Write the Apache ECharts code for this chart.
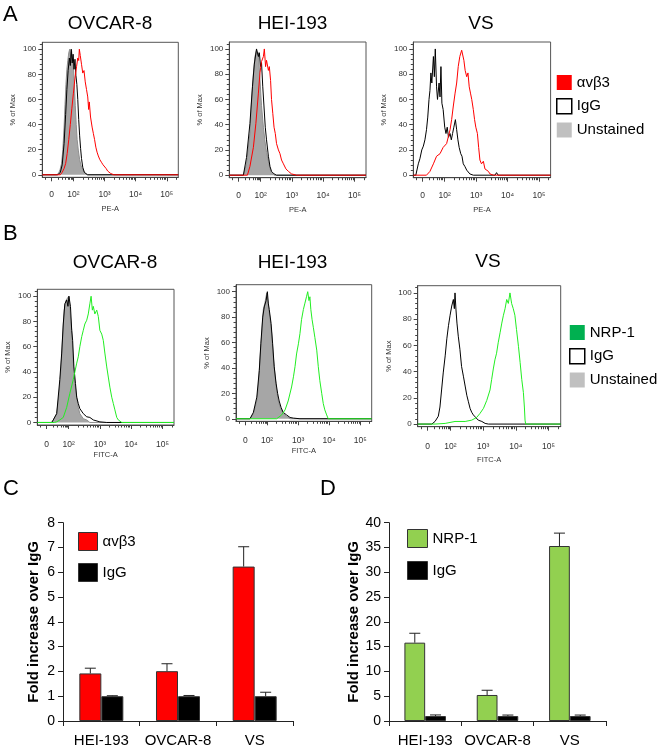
<!DOCTYPE html>
<html><head><meta charset="utf-8">
<script src="https://cdn.jsdelivr.net/npm/echarts@6/dist/echarts.min.js"></script>
<style>html,body{margin:0;padding:0;background:#fff}#c{width:660px;height:748px}</style>
</head><body><div id="c"></div>
<script>
// ---------------- DATA ----------------
// Flow histogram x axis: display position (decade units), tick labels
const flowXTickValues = [1.3, 2, 3, 4, 5];
const flowXTickLabels = ['0', '10²', '10³', '10⁴', '10⁵'];
const flowYTickValues = [0, 20, 40, 60, 80, 100];
const flowXMinorTicks = [1.1, 1.5, 1.65, 1.75, 1.82, 1.88, 1.93, 1.97,
  2.301, 2.477, 2.602, 2.699, 2.778, 2.845, 2.903, 2.954,
  3.301, 3.477, 3.602, 3.699, 3.778, 3.845, 3.903, 3.954,
  4.301, 4.477, 4.602, 4.699, 4.778, 4.845, 4.903, 4.954, 5.301];
const flowYMinorTicks = [4, 8, 12, 16, 24, 28, 32, 36, 44, 48, 52, 56, 64, 68, 72, 76, 84, 88, 92, 96, 104];

// Panel A (PE-A): [position, % of Max]
const aOvcarUnstained = [[1.0,0],[1.45,0],[1.52,1],[1.57,4],[1.62,9],[1.66,20],[1.70,38],[1.73,56],[1.76,72],[1.79,84],[1.82,91],[1.85,97],[1.88,100],[1.91,94],[1.94,99],[1.97,92],[2.0,86],[2.03,72],[2.06,55],[2.09,40],[2.12,28],[2.16,19],[2.2,12],[2.25,7],[2.3,4],[2.38,1],[2.48,0],[5.37,0]];
const aOvcarIgG = [[1.0,0],[1.5,0],[1.58,2],[1.64,8],[1.70,25],[1.75,48],[1.79,68],[1.83,83],[1.87,93],[1.90,87],[1.93,100],[1.96,89],[1.99,96],[2.02,84],[2.05,92],[2.08,79],[2.11,72],[2.14,60],[2.17,44],[2.20,31],[2.23,21],[2.26,13],[2.30,6],[2.35,2],[2.45,0],[5.37,0]];
const aOvcarAvb3 = [[1.0,0],[1.58,0],[1.64,2],[1.70,5],[1.75,9],[1.8,17],[1.85,28],[1.9,40],[1.95,53],[2.0,65],[2.05,77],[2.1,86],[2.14,93],[2.17,91],[2.19,100],[2.22,95],[2.26,88],[2.30,81],[2.34,83],[2.38,74],[2.42,68],[2.46,62],[2.49,52],[2.51,58],[2.55,46],[2.6,38],[2.64,33],[2.68,28],[2.72,22],[2.76,18],[2.8,15],[2.85,12],[2.9,10],[2.95,8],[3.0,7],[3.05,5],[3.1,3],[3.2,1],[3.3,0],[5.37,0]];

const aHeiUnstained = [[1.0,0],[1.45,0],[1.55,9],[1.66,33],[1.71,58],[1.77,80],[1.82,94],[1.87,99],[1.90,95],[1.93,97],[1.98,76],[2.03,55],[2.09,38],[2.14,27],[2.19,18],[2.25,11],[2.30,5],[2.35,2],[2.43,0],[5.37,0]];
const aHeiIgG = [[1.0,0],[1.45,0],[1.55,14],[1.66,41],[1.74,70],[1.80,88],[1.87,100],[1.93,94],[1.96,97],[2.0,86],[2.03,89],[2.07,70],[2.11,54],[2.15,38],[2.19,28],[2.25,15],[2.30,7],[2.35,3],[2.43,1],[2.51,0],[5.37,0]];
const aHeiAvb3 = [[1.0,0],[1.58,0],[1.66,7],[1.77,22],[1.85,41],[1.93,65],[1.98,81],[2.03,90],[2.09,94],[2.12,100],[2.16,86],[2.19,91],[2.25,83],[2.28,86],[2.32,75],[2.35,60],[2.39,49],[2.43,38],[2.47,33],[2.51,25],[2.57,20],[2.62,17],[2.67,12],[2.73,9],[2.81,5],[2.89,3],[2.99,1],[3.15,0],[5.37,0]];

const aVsIgG = [[1.0,0],[1.08,0],[1.16,9],[1.21,13],[1.27,20],[1.32,23],[1.37,28],[1.42,36],[1.46,46],[1.50,60],[1.53,67],[1.56,81],[1.59,73],[1.64,94],[1.67,78],[1.70,100],[1.74,70],[1.77,60],[1.82,73],[1.85,62],[1.88,86],[1.91,57],[1.95,52],[2.0,38],[2.04,33],[2.08,38],[2.12,30],[2.17,33],[2.21,28],[2.25,33],[2.29,38],[2.34,44],[2.38,36],[2.42,28],[2.46,22],[2.51,17],[2.55,15],[2.59,9],[2.64,7],[2.70,4],[2.75,3],[2.80,1],[2.91,0],[3.6,0],[3.65,2],[3.7,0],[5.37,0]];
const aVsAvb3 = [[1.0,0],[1.42,0],[1.53,3],[1.64,9],[1.74,15],[1.85,17],[1.95,22],[2.06,25],[2.11,30],[2.17,36],[2.22,44],[2.27,54],[2.33,65],[2.38,73],[2.43,86],[2.48,94],[2.54,99],[2.57,100],[2.61,91],[2.65,83],[2.70,78],[2.74,81],[2.78,70],[2.82,65],[2.86,60],[2.91,52],[2.95,44],[2.99,38],[3.04,33],[3.08,22],[3.12,12],[3.17,9],[3.23,11],[3.28,5],[3.33,4],[3.39,3],[3.44,1],[3.55,0],[5.37,0]];

// Panel B (FITC-A)
const bOvcarUnstained = [[1.0,0],[1.46,0],[1.51,2],[1.62,7],[1.70,23],[1.76,44],[1.81,68],[1.86,89],[1.92,97],[1.97,97],[2.01,100],[2.04,89],[2.10,73],[2.15,47],[2.20,31],[2.26,20],[2.31,12],[2.36,7],[2.47,3],[2.58,2],[2.68,0],[5.37,0]];
const bOvcarIgG = [[1.0,0],[1.46,0],[1.51,2],[1.62,7],[1.72,34],[1.78,55],[1.83,78],[1.88,94],[1.94,97],[1.98,92],[2.01,100],[2.06,92],[2.10,73],[2.13,65],[2.17,44],[2.22,31],[2.26,20],[2.31,15],[2.36,11],[2.47,7],[2.58,4.5],[2.68,4],[2.79,2],[3.0,0.5],[3.22,0],[5.37,0]];
const bOvcarNrp1 = [[1.0,0],[1.55,0],[1.62,0.5],[1.72,2],[1.83,4],[1.94,12],[2.04,23],[2.15,34],[2.26,47],[2.31,52],[2.36,60],[2.42,68],[2.47,73],[2.52,78],[2.58,81],[2.63,86],[2.68,94],[2.72,100],[2.76,89],[2.79,92],[2.84,86],[2.90,89],[2.95,84],[3.00,73],[3.06,70],[3.11,65],[3.16,55],[3.22,44],[3.27,36],[3.32,28],[3.38,20],[3.43,15],[3.48,10],[3.54,4],[3.59,2],[3.70,0],[5.37,0]];

const bHeiUnstained = [[1.0,0],[1.45,0],[1.56,4],[1.67,14],[1.72,25],[1.77,46],[1.83,67],[1.88,86],[1.93,91],[1.99,99],[2.02,100],[2.05,88],[2.09,80],[2.15,67],[2.20,49],[2.26,33],[2.31,22],[2.36,14],[2.42,9],[2.47,7],[2.52,4],[2.63,2],[2.74,0],[5.37,0]];
const bHeiIgG = [[1.0,0],[1.45,0],[1.56,5],[1.67,17],[1.75,38],[1.80,59],[1.86,80],[1.91,88],[1.97,93],[2.01,100],[2.04,91],[2.07,86],[2.13,75],[2.18,59],[2.23,41],[2.29,28],[2.34,20],[2.39,14],[2.45,9],[2.52,5],[2.63,3],[2.74,1],[2.85,0.5],[3.06,0],[5.37,0]];
const bHeiNrp1 = [[1.0,0],[2.31,0],[2.47,3],[2.58,7],[2.68,14],[2.79,25],[2.85,33],[2.90,41],[2.95,51],[3.01,59],[3.06,67],[3.11,78],[3.17,86],[3.22,91],[3.27,96],[3.31,100],[3.35,93],[3.38,96],[3.41,86],[3.45,78],[3.49,72],[3.54,64],[3.60,54],[3.65,41],[3.70,30],[3.76,20],[3.81,12],[3.86,7],[3.92,3],[3.97,0],[5.37,0]];

const bVsIgG = [[1.0,0],[1.43,0],[1.53,2],[1.63,6],[1.68,13],[1.73,26],[1.78,39],[1.84,52],[1.89,65],[1.94,75],[1.99,83],[2.04,90],[2.09,95],[2.12,88],[2.14,100],[2.17,87],[2.20,77],[2.24,67],[2.29,57],[2.34,44],[2.40,36],[2.45,29],[2.50,22],[2.55,17],[2.60,12],[2.65,9],[2.70,7],[2.75,6],[2.85,3],[2.96,2],[3.06,0.5],[3.16,0],[5.37,0]];
const bVsNrp1 = [[1.0,0],[1.53,0],[1.84,0.5],[2.14,2],[2.45,2],[2.65,3],[2.80,5],[2.90,8],[3.01,12],[3.11,18],[3.21,26],[3.26,34],[3.31,42],[3.36,49],[3.41,54],[3.46,62],[3.52,70],[3.57,77],[3.62,83],[3.67,88],[3.72,95],[3.77,92],[3.82,100],[3.87,92],[3.92,88],[3.97,83],[4.02,72],[4.08,59],[4.13,47],[4.18,34],[4.23,24],[4.26,13],[4.28,3],[4.30,0],[5.37,0]];

// Panels C and D: bar charts
const barCategories = ['HEI-193', 'OVCAR-8', 'VS'];
const cAvb3 = [1.92, 2.01, 6.23];
const cAvb3Err = [0.21, 0.30, 0.80];
const cIgG = [1.0, 1.0, 1.0];
const cIgGErr = [0.02, 0.03, 0.16];
const dNrp1 = [15.8, 5.25, 35.3];
const dNrp1Err = [1.9, 0.95, 2.6];
const dIgG = [1.0, 1.0, 1.0];
const dIgGErr = [0.22, 0.2, 0.2];

// ---------------- CHART ----------------
const FONT = 'Liberation Sans, Arial, sans-serif';
const chart = echarts.init(document.getElementById('c'), null, {renderer: 'canvas'});
const grid = [], xAxis = [], yAxis = [], series = [], title = [], legend = [];

const flowPlots = [
  {name:'OVCAR-8', left:42.3, top:42.3, w:136, h:135, tx:110, ty:24, xname:'PE-A', lm:13, ng:28,
    sets:[['Unstained', aOvcarUnstained], ['IgG', aOvcarIgG], ['αvβ3', aOvcarAvb3]], col:'#ff0000'},
  {name:'HEI-193', left:229.3, top:42, w:136.7, h:135.7, tx:292.5, ty:24, xname:'PE-A', lm:13, ng:28,
    sets:[['Unstained', aHeiUnstained], ['IgG', aHeiIgG], ['αvβ3', aHeiAvb3]], col:'#ff0000'},
  {name:'VS', left:413.3, top:42, w:137.3, h:135.7, tx:481, ty:24, xname:'PE-A', lm:13, ng:28,
    sets:[['IgG', aVsIgG], ['αvβ3', aVsAvb3]], col:'#ff0000'},
  {name:'OVCAR-8', left:37.3, top:289.3, w:136.7, h:135.7, tx:115, ty:262.5, xname:'FITC-A', lm:15, ng:26,
    sets:[['Unstained', bOvcarUnstained], ['IgG', bOvcarIgG], ['NRP-1', bOvcarNrp1]], col:'#22ee22'},
  {name:'HEI-193', left:236, top:284.7, w:135.7, h:136.6, tx:292.5, ty:263, xname:'FITC-A', lm:15, ng:26,
    sets:[['Unstained', bHeiUnstained], ['IgG', bHeiIgG], ['NRP-1', bHeiNrp1]], col:'#22ee22'},
  {name:'VS', left:417.7, top:285.7, w:143, h:141, tx:488, ty:262, xname:'FITC-A', lm:15, ng:29,
    sets:[['IgG', bVsIgG], ['NRP-1', bVsNrp1]], col:'#22ee22'}
];

flowPlots.forEach((p, i) => {
  grid.push({left:p.left, top:p.top, width:p.w, height:p.h, show:true, borderColor:'#555', borderWidth:1, containLabel:false});
  const xi = xAxis.length, yi = yAxis.length;
  xAxis.push({type:'value', gridIndex:i, min:1.0, max:5.37, position:'bottom', offset:0,
    name:p.xname, nameLocation:'middle', nameGap:p.ng, nameTextStyle:{fontSize:7.5, color:'#333', fontFamily:FONT},
    axisLine:{show:true, onZero:false, lineStyle:{color:'#444', width:1}},
    axisTick:{show:true, inside:false, length:4, customValues:flowXTickValues, lineStyle:{color:'#444'}},
    axisLabel:{show:true, margin:p.lm, fontSize:8.5, color:'#333', fontFamily:FONT, customValues:flowXTickValues,
      formatter:(v) => { const k = flowXTickValues.findIndex(t => Math.abs(t - v) < 1e-6); return k >= 0 ? flowXTickLabels[k] : ''; }},
    splitLine:{show:false}});
  xAxis.push({type:'value', gridIndex:i, min:1.0, max:5.37, position:'bottom', offset:0,
    axisLine:{show:false, onZero:false}, axisTick:{show:true, inside:false, length:2.5, customValues:flowXMinorTicks, lineStyle:{color:'#444'}},
    axisLabel:{show:false}, splitLine:{show:false}});
  yAxis.push({type:'value', gridIndex:i, min:-2, max:105.5, position:'left', offset:0,
    name:'% of Max', nameLocation:'middle', nameGap:25, nameTextStyle:{fontSize:7.5, color:'#333', fontFamily:FONT},
    axisLine:{show:true, onZero:false, lineStyle:{color:'#444', width:1}},
    axisTick:{show:true, inside:false, length:4, customValues:flowYTickValues, lineStyle:{color:'#444'}},
    axisLabel:{show:true, margin:6, fontSize:8, color:'#333', fontFamily:FONT, customValues:flowYTickValues},
    splitLine:{show:false}});
  yAxis.push({type:'value', gridIndex:i, min:-2, max:105.5, position:'left', offset:0,
    axisLine:{show:false, onZero:false}, axisTick:{show:true, inside:false, length:2.5, customValues:flowYMinorTicks, lineStyle:{color:'#444'}},
    axisLabel:{show:false}, splitLine:{show:false}});
  p.sets.forEach(([nm, data]) => {
    const s = {type:'line', name:nm, xAxisIndex:xi, yAxisIndex:yi, data:data, showSymbol:false, symbol:'none',
      smooth:false, animation:false, silent:true, lineStyle:{width:1}};
    if (nm === 'Unstained') { s.lineStyle.color = '#8f8f8f'; s.itemStyle = {color:'#a6a6a6'}; s.areaStyle = {color:'#a6a6a6', opacity:1}; s.z = 1; }
    else if (nm === 'IgG') { s.lineStyle.color = '#000'; s.itemStyle = {color:'#000'}; s.z = 2; }
    else { s.lineStyle.color = p.col; s.itemStyle = {color:p.col}; s.z = 3; }
    series.push(s);
  });
  title.push({text:p.name, left:p.tx, top:p.ty, textAlign:'center', textVerticalAlign:'middle', padding:0,
    textStyle:{fontSize:19, fontWeight:'normal', color:'#000', fontFamily:FONT}});
});

// Bar charts
const BAR_FRAC = 0.287;
function errRender(offset) {
  return function (params, api) {
    const i = api.value(0), v = api.value(1), e = api.value(2);
    const bw = api.size([1, 0])[0] * BAR_FRAC;
    const p0 = api.coord([i, v]), p1 = api.coord([i, v + e]);
    const x = p0[0] + offset * bw;
    return {type:'group', children:[
      {type:'line', shape:{x1:x, y1:p0[1], x2:x, y2:p1[1]}, style:{stroke:'#222', lineWidth:1}},
      {type:'line', shape:{x1:x - 5.5, y1:p1[1], x2:x + 5.5, y2:p1[1]}, style:{stroke:'#222', lineWidth:1}}
    ]};
  };
}
const barPlots = [
  {left:63, top:522.7, w:230, h:200, max:8, interval:1, ng:22, name:'αvβ3', col:'#ff0000', vals:cAvb3, errs:cAvb3Err, igg:cIgG, iggErr:cIgGErr,
    lg:{left:78, top:532, iw:19, ih:18, gap:12}},
  {left:389, top:522.7, w:217, h:199, max:40, interval:5, ng:26, name:'NRP-1', col:'#92d050', vals:dNrp1, errs:dNrp1Err, igg:dIgG, iggErr:dIgGErr,
    lg:{left:407, top:529, iw:20, ih:18, gap:13}}
];
barPlots.forEach((p) => {
  const gi = grid.length;
  grid.push({left:p.left, top:p.top, width:p.w, height:p.h, show:false, containLabel:false});
  const xi = xAxis.length, yi = yAxis.length;
  xAxis.push({type:'category', gridIndex:gi, data:barCategories, boundaryGap:true,
    axisLine:{show:true, lineStyle:{color:'#222', width:1}},
    axisTick:{show:true, alignWithLabel:false, inside:false, length:5, lineStyle:{color:'#222'}},
    axisLabel:{show:true, margin:12, fontSize:15, color:'#000', fontFamily:FONT, interval:0},
    splitLine:{show:false}});
  yAxis.push({type:'value', gridIndex:gi, min:0, max:p.max, interval:p.interval,
    name:'Fold increase over IgG', nameLocation:'middle', nameGap:p.ng,
    nameTextStyle:{fontSize:15, fontWeight:'bold', color:'#000', fontFamily:FONT},
    axisLine:{show:true, lineStyle:{color:'#222', width:1}},
    axisTick:{show:true, inside:false, length:5, lineStyle:{color:'#222'}},
    axisLabel:{show:true, margin:8, fontSize:14, color:'#000', fontFamily:FONT},
    splitLine:{show:false}});
  series.push({type:'bar', name:p.name, xAxisIndex:xi, yAxisIndex:yi, data:p.vals, barWidth:(BAR_FRAC*100)+'%', barGap:'0%',
    itemStyle:{color:p.col, borderColor:'#333', borderWidth:1}, animation:false, silent:true, z:2});
  series.push({type:'bar', name:'IgG', xAxisIndex:xi, yAxisIndex:yi, data:p.igg, barWidth:(BAR_FRAC*100)+'%', barGap:'0%',
    itemStyle:{color:'#000', borderColor:'#333', borderWidth:1}, animation:false, silent:true, z:2});
  series.push({type:'custom', xAxisIndex:xi, yAxisIndex:yi, renderItem:errRender(-0.5), z:3, animation:false, silent:true,
    data:p.vals.map((v, k) => [k, v, p.errs[k]])});
  series.push({type:'custom', xAxisIndex:xi, yAxisIndex:yi, renderItem:errRender(0.5), z:3, animation:false, silent:true,
    data:p.igg.map((v, k) => [k, v, p.iggErr[k]])});
  legend.push({orient:'vertical', left:p.lg.left, top:p.lg.top, itemWidth:p.lg.iw, itemHeight:p.lg.ih, itemGap:p.lg.gap,
    selectedMode:false, padding:0, textStyle:{fontSize:15, color:'#000', fontFamily:FONT, lineHeight:p.lg.ih},
    data:[{name:p.name, icon:'rect', itemStyle:{color:p.col, borderColor:'#333', borderWidth:1}},
          {name:'IgG', icon:'rect', itemStyle:{color:'#000', borderColor:'#333', borderWidth:1}}]});
});

// Flow legends
legend.push({orient:'vertical', left:556, top:75, itemWidth:15, itemHeight:15, itemGap:8, selectedMode:false, padding:0,
  textStyle:{fontSize:15, color:'#000', fontFamily:FONT, lineHeight:15},
  data:[{name:'αvβ3', icon:'rect', itemStyle:{color:'#ff0000', borderWidth:0}, lineStyle:{width:0}},
        {name:'IgG', icon:'rect', itemStyle:{color:'#ffffff', borderColor:'#000', borderWidth:1.5}, lineStyle:{width:0}},
        {name:'Unstained', icon:'rect', itemStyle:{color:'#c0c0c0', borderWidth:0}, lineStyle:{width:0}}]});
legend.push({orient:'vertical', left:569, top:325, itemWidth:15, itemHeight:15, itemGap:8, selectedMode:false, padding:0,
  textStyle:{fontSize:15, color:'#000', fontFamily:FONT, lineHeight:15},
  data:[{name:'NRP-1', icon:'rect', itemStyle:{color:'#00b050', borderWidth:0}, lineStyle:{width:0}},
        {name:'IgG', icon:'rect', itemStyle:{color:'#ffffff', borderColor:'#000', borderWidth:1.5}, lineStyle:{width:0}},
        {name:'Unstained', icon:'rect', itemStyle:{color:'#c0c0c0', borderWidth:0}, lineStyle:{width:0}}]});

// Panel letters
[['A', 3, 14.5], ['B', 3, 233.5], ['C', 3, 489], ['D', 320, 489]].forEach(([t, x, y]) => {
  title.push({text:t, left:x, top:y, textVerticalAlign:'middle', padding:0,
    textStyle:{fontSize:22, fontWeight:'normal', color:'#000', fontFamily:FONT}});
});

chart.setOption({animation:false, backgroundColor:'#fff', grid, xAxis, yAxis, series, title, legend});
</script>
</body></html>
